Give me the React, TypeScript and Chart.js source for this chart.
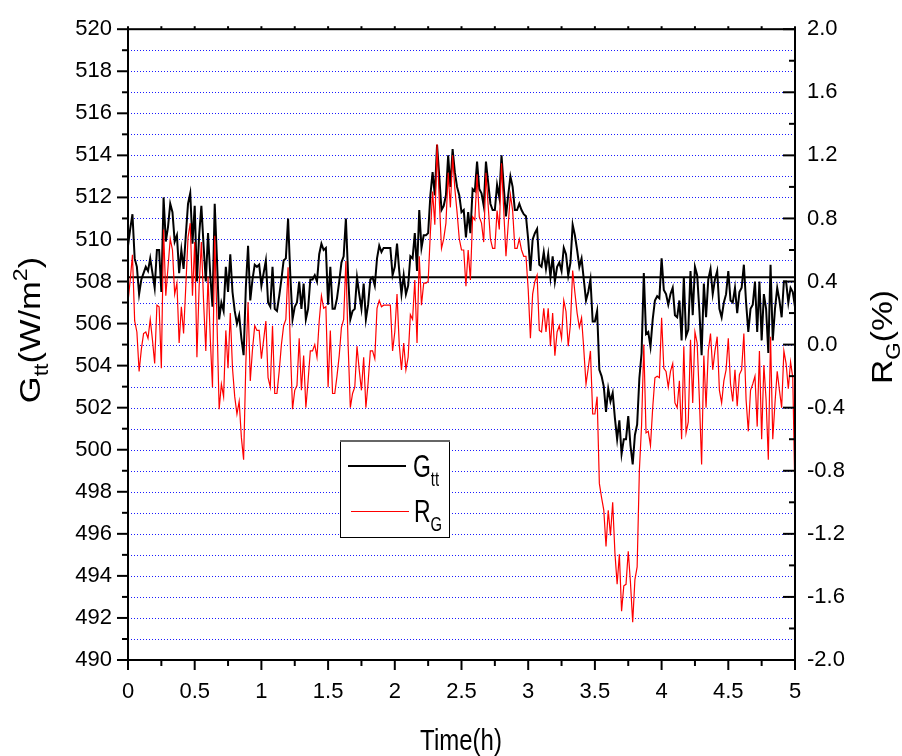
import { useEffect, useRef } from "react";
import { Chart, registerables } from "chart.js";

Chart.register(...registerables);

// Global irradiance on the tilted surface, one reading per minute (W/m²)
const G_TT: number[] = [
  509.7, 510.5, 511.2, 509.1, 508.7, 507.4, 508.1, 508.4, 508.7, 508.5,
  509.1, 508.4, 507.7, 509.5, 509.5, 507.5, 512.0, 509.9, 510.6, 511.7,
  511.3, 509.9, 510.2, 508.4, 509.5, 508.6, 510.2, 511.7, 512.2, 509.8,
  511.6, 508.0, 510.2, 511.6, 509.7, 508.0, 510.3, 508.3, 506.8, 511.7,
  509.1, 506.2, 507.0, 506.6, 508.7, 507.5, 509.3, 507.5, 506.6, 506.0,
  506.4, 505.3, 504.5, 507.7, 509.7, 507.1, 508.1, 508.8, 508.7, 508.8,
  507.8, 508.4, 509.0, 507.0, 506.8, 508.7, 506.7, 506.6, 507.3, 508.1,
  509.0, 509.1, 511.0, 508.3, 506.2, 506.8, 507.0, 508.0, 506.7, 507.9,
  506.2, 506.7, 508.1, 508.1, 508.3, 508.0, 509.3, 509.8, 509.5, 509.6,
  506.9, 508.7, 506.7, 506.7, 507.2, 508.0, 508.9, 509.2, 511.0, 508.3,
  506.2, 506.6, 506.7, 508.2, 507.4, 506.7, 507.9, 506.2, 506.9, 508.1,
  508.2, 507.8, 509.1, 509.7, 509.4, 509.6, 509.6, 509.6, 509.6, 508.3,
  508.7, 509.8, 508.5, 507.4, 508.3, 507.4, 507.8, 509.2, 509.1, 510.3,
  508.5, 511.4, 509.6, 510.2, 510.2, 510.3, 512.1, 513.2, 512.1, 514.5,
  513.0, 511.4, 511.6, 512.1, 514.0, 512.5, 514.3, 513.2, 512.5, 512.1,
  511.3, 511.4, 510.1, 511.3, 510.3, 512.4, 512.3, 513.7, 512.4, 512.2,
  511.6, 513.7, 512.7, 511.7, 511.4, 511.4, 512.6, 512.0, 514.0, 512.5,
  511.1, 512.1, 513.0, 512.5, 511.4, 511.4, 511.7, 511.4, 511.2, 511.1,
  510.0, 508.5, 510.0, 510.3, 510.5, 508.8, 508.7, 509.4, 508.6, 509.3,
  508.2, 509.2, 508.0, 508.7, 508.9, 508.5, 509.6, 509.3, 508.3, 508.9,
  510.7, 510.2, 509.5, 508.7, 509.1, 508.1, 507.1, 507.5, 508.1, 506.1,
  506.1, 506.6, 503.8, 503.5, 503.0, 501.8, 502.9, 502.3, 502.7, 501.5,
  500.5, 501.4, 499.8, 500.5, 500.5, 501.6, 500.2, 499.3, 500.7, 501.2,
  503.4, 504.6, 508.4, 505.5, 505.6, 504.9, 506.2, 507.1, 507.3, 507.2,
  509.1, 507.6, 507.4, 506.9, 507.4, 507.7, 506.4, 506.3, 507.1, 505.2,
  508.2, 505.4, 505.7, 508.5, 506.4, 508.7, 508.3, 506.6, 504.5, 507.9,
  506.3, 508.1, 508.6, 507.4, 508.1, 508.5, 506.7, 506.3, 507.0, 507.4,
  508.5, 507.1, 507.0, 507.7, 506.5, 507.5, 507.7, 508.8, 507.0, 505.6,
  506.7, 506.9, 508.0, 505.6, 508.0, 505.2, 507.4, 506.7, 504.6, 508.8,
  505.2, 506.7, 507.7, 507.1, 506.3, 508.0, 508.0, 507.0, 507.7, 507.5,
  506.8,
];

// Relative deviation of the irradiance, same minutes (%)
const R_G: number[] = [
  0.27, 0.41, 0.57, 0.15, 0.08, -0.17, -0.03, 0.07, 0.08, 0.04,
  0.16, 0.03, -0.12, 0.25, 0.24, -0.15, 0.73, 0.31, 0.49, 0.67,
  0.6, 0.32, 0.39, 0.01, 0.24, 0.07, 0.37, 0.68, 0.77, 0.31,
  0.65, -0.08, 0.37, 0.65, 0.27, -0.04, 0.43, 0.04, -0.27, 0.69,
  0.16, -0.41, -0.25, -0.33, 0.09, -0.15, 0.2, -0.15, -0.33, -0.44,
  -0.36, -0.59, -0.73, -0.12, 0.27, -0.23, -0.03, 0.12, 0.09, 0.09,
  -0.09, 0.03, 0.15, -0.21, -0.27, 0.12, -0.31, -0.31, -0.17, 0.0,
  0.12, 0.16, 0.49, 0.0, -0.41, -0.29, -0.26, 0.04, -0.29, -0.07,
  -0.4, -0.23, -0.04, -0.04, 0.0, -0.08, 0.15, 0.31, 0.23, 0.24,
  -0.27, 0.09, -0.31, -0.31, -0.2, -0.07, 0.11, 0.16, 0.53, 0.0,
  -0.4, -0.31, -0.27, -0.01, -0.16, -0.29, -0.08, -0.4, -0.24, -0.04,
  -0.04, -0.09, 0.23, 0.28, 0.24, 0.25, 0.25, 0.25, 0.25, -0.04,
  0.08, 0.32, 0.0, -0.16, 0.01, -0.16, -0.08, 0.19, 0.16, 0.41,
  0.01, 0.56, 0.25, 0.39, 0.39, 0.4, 0.71, 0.97, 0.76, 1.27,
  0.92, 0.61, 0.67, 0.77, 1.09, 0.87, 1.2, 0.99, 0.84, 0.67,
  0.6, 0.6, 0.37, 0.6, 0.41, 0.81, 0.79, 1.08, 0.81, 0.77,
  0.65, 1.09, 0.88, 0.67, 0.61, 0.61, 0.85, 0.73, 1.15, 0.85,
  0.56, 0.76, 0.95, 0.85, 0.61, 0.61, 0.67, 0.6, 0.56, 0.56,
  0.35, 0.04, 0.32, 0.4, 0.44, 0.09, 0.08, 0.23, 0.08, 0.23,
  -0.01, 0.2, -0.07, 0.08, 0.12, 0.04, 0.28, 0.21, -0.01, 0.13,
  0.47, 0.33, 0.2, 0.11, 0.17, -0.03, -0.25, -0.15, -0.04, -0.44,
  -0.44, -0.33, -0.88, -0.97, -1.05, -1.28, -1.05, -1.21, -1.0, -1.32,
  -1.52, -1.33, -1.69, -1.53, -1.52, -1.31, -1.51, -1.76, -1.49, -1.41,
  -0.8, -0.51, 0.0, -0.56, -0.55, -0.64, -0.4, -0.21, -0.2, -0.21,
  0.17, -0.15, -0.17, -0.27, -0.17, -0.12, -0.37, -0.4, -0.23, -0.6,
  -0.01, -0.56, -0.49, 0.03, -0.37, 0.08, 0.01, -0.35, -0.76, -0.07,
  -0.4, -0.04, 0.07, -0.16, -0.04, 0.05, -0.29, -0.37, -0.23, -0.16,
  0.04, -0.25, -0.36, -0.16, -0.39, -0.19, -0.16, 0.07, -0.35, -0.55,
  -0.29, -0.25, -0.2, -0.52, -0.04, -0.6, -0.13, -0.35, -0.73, 0.05,
  -0.6, -0.37, -0.17, -0.29, -0.4, -0.04, -0.12, -0.28, -0.11, -0.21,
  -0.97,
];

// Mean irradiance over the run, drawn as a reference line (W/m²)
const G_MEAN = 508.2;

// Sampling: one reading per minute, time in hours
const TIME_H: number[] = G_TT.map((_, i) => i / 60);

const TIME_RANGE = { min: 0, max: 5, major: 0.5, minor: 0.25 };
const G_RANGE = { min: 490, max: 520, major: 2, minor: 1 };
const R_RANGE = { min: -2, max: 2, major: 0.4, minor: 0.2 };

const FONT = '"Liberation Sans", Arial, Helvetica, sans-serif';

type Part = { t: string; size: number; dy?: number };

// Draws a run of text pieces (for sub/superscripts) with a horizontal squeeze
function drawParts(
  ctx: CanvasRenderingContext2D,
  parts: Part[],
  x: number,
  y: number,
  align: "left" | "center",
  sx: number
) {
  ctx.save();
  ctx.translate(x, y);
  ctx.scale(sx, 1);
  ctx.textBaseline = "alphabetic";
  ctx.textAlign = "left";
  ctx.fillStyle = "#000";
  let w = 0;
  for (const p of parts) {
    ctx.font = `${p.size}px ${FONT}`;
    w += ctx.measureText(p.t).width;
  }
  let cx = align === "center" ? -w / 2 : 0;
  for (const p of parts) {
    ctx.font = `${p.size}px ${FONT}`;
    ctx.fillText(p.t, cx, p.dy ?? 0);
    cx += ctx.measureText(p.t).width;
  }
  ctx.restore();
}

function steps(min: number, max: number, step: number): number[] {
  const out: number[] = [];
  const n = Math.round((max - min) / step);
  for (let k = 0; k <= n; k++) out.push(+(min + k * step).toFixed(6));
  return out;
}

const framePlugin = {
  id: "originFrame",
  beforeDatasetsDraw(chart: any) {
    const { ctx, chartArea: a, scales } = chart;
    const yL = scales.yL;
    ctx.save();
    ctx.strokeStyle = "#1a1aff";
    ctx.lineWidth = 1;
    ctx.setLineDash([1, 2]);
    for (const v of steps(G_RANGE.min, G_RANGE.max, G_RANGE.minor)) {
      if (v === G_RANGE.min || v === G_RANGE.max) continue;
      const y = Math.round(yL.getPixelForValue(v)) + 0.5;
      ctx.beginPath();
      ctx.moveTo(a.left + 3, y);
      ctx.lineTo(a.right, y);
      ctx.stroke();
    }
    ctx.restore();
  },
  afterDatasetsDraw(chart: any) {
    const { ctx, chartArea: a, scales } = chart;
    const { x: xs, yL, yR } = scales;
    ctx.save();
    ctx.strokeStyle = "#000";
    ctx.lineWidth = 2;
    ctx.setLineDash([]);
    ctx.lineCap = "butt";

    // frame
    ctx.strokeRect(a.left, a.top, a.right - a.left, a.bottom - a.top);

    const line = (x1: number, y1: number, x2: number, y2: number) => {
      ctx.beginPath();
      ctx.moveTo(x1, y1);
      ctx.lineTo(x2, y2);
      ctx.stroke();
    };

    // bottom and top ticks
    for (const v of steps(TIME_RANGE.min, TIME_RANGE.max, TIME_RANGE.minor)) {
      const x = xs.getPixelForValue(v);
      const major = Math.abs(v / TIME_RANGE.major - Math.round(v / TIME_RANGE.major)) < 1e-6;
      line(x, a.bottom, x, a.bottom + (major ? 10 : 6));
      line(x, a.top, x, a.top - 3);
    }
    // left ticks (outward)
    for (const v of steps(G_RANGE.min, G_RANGE.max, G_RANGE.minor)) {
      const y = yL.getPixelForValue(v);
      const major = v % G_RANGE.major === 0;
      line(a.left, y, a.left - (major ? 11 : 6), y);
    }
    // right ticks (inward)
    for (const v of steps(R_RANGE.min, R_RANGE.max, R_RANGE.minor)) {
      const y = yR.getPixelForValue(v);
      const q = v / R_RANGE.major;
      const major = Math.abs(q - Math.round(q)) < 1e-6;
      line(a.right, y, a.right - (major ? 12 : 6), y);
    }

    // legend
    const bx = 340.5, by = 441.5, bw = 109, bh = 96;
    ctx.fillStyle = "#fff";
    ctx.fillRect(bx, by, bw, bh);
    ctx.lineWidth = 1;
    ctx.strokeStyle = "#000";
    ctx.strokeRect(bx, by, bw, bh);
    ctx.lineWidth = 2;
    ctx.strokeStyle = "#666";
    line(bx - 0.5, by - 0.5, bx + bw + 0.5, by - 0.5);

    ctx.strokeStyle = "#000";
    ctx.lineWidth = 2;
    line(348, 466, 406, 466);
    ctx.strokeStyle = "#ff0000";
    ctx.lineWidth = 1;
    line(351, 511.5, 409, 511.5);

    drawParts(ctx, [{ t: "G", size: 31 }, { t: "tt", size: 20, dy: 9 }], 413, 477, "left", 0.74);
    drawParts(ctx, [{ t: "R", size: 31 }, { t: "G", size: 20, dy: 9 }], 414, 522, "left", 0.74);

    ctx.restore();
  },
  afterDraw(chart: any) {
    const { ctx } = chart;
    // x title
    drawParts(ctx, [{ t: "Time(h)", size: 30 }], 461, 750, "center", 0.8);

    // left title, reading upwards
    ctx.save();
    ctx.translate(40, 330);
    ctx.rotate(-Math.PI / 2);
    drawParts(
      ctx,
      [
        { t: "G", size: 30 },
        { t: "tt", size: 20, dy: 8 },
        { t: "(W/m", size: 30 },
        { t: "2", size: 20, dy: -13 },
        { t: ")", size: 30 },
      ],
      0,
      0,
      "center",
      1.15
    );
    ctx.restore();

    // right title
    ctx.save();
    ctx.translate(892, 337);
    ctx.rotate(-Math.PI / 2);
    drawParts(
      ctx,
      [
        { t: "R", size: 30 },
        { t: "G", size: 20, dy: 8 },
        { t: "(%)", size: 30 },
      ],
      0,
      0,
      "center",
      1.12
    );
    ctx.restore();
  },
};

export default function App() {
  const canvasRef = useRef<HTMLCanvasElement | null>(null);

  useEffect(() => {
    const canvas = canvasRef.current;
    if (!canvas) return;

    const gPoints = TIME_H.map((t, i) => ({ x: t, y: G_TT[i] }));
    const rPoints = TIME_H.map((t, i) => ({ x: t, y: R_G[i] }));
    const meanPoints = [
      { x: TIME_RANGE.min, y: G_MEAN },
      { x: TIME_RANGE.max, y: G_MEAN },
    ];

    const tickFont = { family: FONT, size: 22 };

    const chart = new Chart(canvas, {
      type: "line",
      data: {
        datasets: [
          {
            label: "R_G",
            data: rPoints,
            yAxisID: "yR",
            borderColor: "#ff0000",
            borderWidth: 1.2,
            pointRadius: 0,
            tension: 0,
            order: 0,
          },
          {
            label: "G_tt",
            data: gPoints,
            yAxisID: "yL",
            borderColor: "#000000",
            borderWidth: 2,
            pointRadius: 0,
            tension: 0,
            order: 1,
          },
          {
            label: "mean",
            data: meanPoints,
            yAxisID: "yL",
            borderColor: "#000000",
            borderWidth: 2,
            pointRadius: 0,
            order: 2,
          },
        ],
      },
      options: {
        animation: false,
        responsive: true,
        maintainAspectRatio: false,
        events: [],
        layout: { padding: { top: 22, left: 0, right: 0, bottom: 0 } },
        plugins: {
          legend: { display: false },
          tooltip: { enabled: false },
          title: { display: false },
        },
        scales: {
          x: {
            type: "linear",
            position: "bottom",
            min: TIME_RANGE.min,
            max: TIME_RANGE.max,
            grid: { display: false, drawTicks: false },
            border: { display: false },
            ticks: {
              stepSize: TIME_RANGE.major,
              font: tickFont,
              color: "#000",
              padding: 19,
              maxRotation: 0,
              autoSkip: false,
              callback: (v: any) => String(+Number(v).toFixed(2)),
            },
            afterFit: (s: any) => {
              s.height = 96;
            },
          },
          yL: {
            type: "linear",
            position: "left",
            min: G_RANGE.min,
            max: G_RANGE.max,
            grid: { display: false, drawTicks: false },
            border: { display: false },
            ticks: {
              stepSize: G_RANGE.major,
              font: tickFont,
              color: "#000",
              padding: 16,
              autoSkip: false,
            },
            afterFit: (s: any) => {
              s.width = 128;
            },
          },
          yR: {
            type: "linear",
            position: "right",
            min: R_RANGE.min,
            max: R_RANGE.max,
            grid: { display: false, drawTicks: false },
            border: { display: false },
            ticks: {
              stepSize: R_RANGE.major,
              font: tickFont,
              color: "#000",
              padding: 12,
              autoSkip: false,
              callback: (v: any) => (Math.abs(Number(v)) < 1e-9 ? "0.0" : Number(v).toFixed(1)),
            },
            afterFit: (s: any) => {
              s.width = 107;
            },
          },
        },
      },
      plugins: [framePlugin],
    });

    return () => chart.destroy();
  }, []);

  return (
    <div style={{ position: "fixed", left: 0, top: 0, width: 902, height: 756, background: "#fff" }}>
      <canvas ref={canvasRef} />
    </div>
  );
}
